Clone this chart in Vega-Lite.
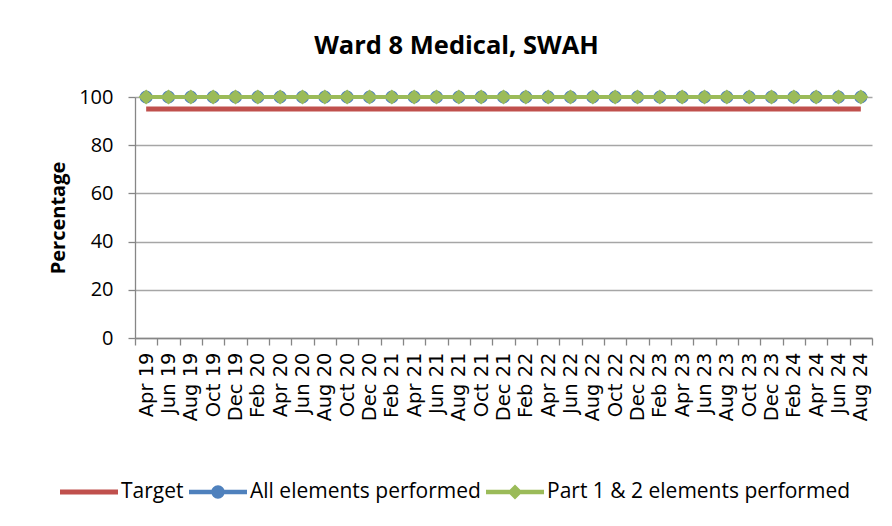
{
  "$schema": "https://vega.github.io/schema/vega-lite/v6.json",
  "autosize": "none",
  "width": 737,
  "height": 241,
  "padding": {"left": 135, "top": 97, "right": 20, "bottom": 188},
  "background": "white",
  "title": {"text": "Ward 8 Medical, SWAH", "font": "Open Sans", "fontSize": 25.5, "fontWeight": "bold", "color": "black", "anchor": "middle", "dx": -47, "offset": 28},
  "config": {
    "view": {"stroke": null},
    "font": "Open Sans",
    "axis": {"labelFont": "Open Sans", "titleFont": "Open Sans", "labelColor": "black", "titleColor": "black", "domainColor": "#868686", "tickColor": "#868686", "gridColor": "#A6A6A6", "domainWidth": 1.3, "tickWidth": 1.3}
  },
  "data": {"values": [
    {"month": "Apr 19", "target": 95, "all": 100, "part": 100},
    {"month": "Jun 19", "target": 95, "all": 100, "part": 100},
    {"month": "Aug 19", "target": 95, "all": 100, "part": 100},
    {"month": "Oct 19", "target": 95, "all": 100, "part": 100},
    {"month": "Dec 19", "target": 95, "all": 100, "part": 100},
    {"month": "Feb 20", "target": 95, "all": 100, "part": 100},
    {"month": "Apr 20", "target": 95, "all": 100, "part": 100},
    {"month": "Jun 20", "target": 95, "all": 100, "part": 100},
    {"month": "Aug 20", "target": 95, "all": 100, "part": 100},
    {"month": "Oct 20", "target": 95, "all": 100, "part": 100},
    {"month": "Dec 20", "target": 95, "all": 100, "part": 100},
    {"month": "Feb 21", "target": 95, "all": 100, "part": 100},
    {"month": "Apr 21", "target": 95, "all": 100, "part": 100},
    {"month": "Jun 21", "target": 95, "all": 100, "part": 100},
    {"month": "Aug 21", "target": 95, "all": 100, "part": 100},
    {"month": "Oct 21", "target": 95, "all": 100, "part": 100},
    {"month": "Dec 21", "target": 95, "all": 100, "part": 100},
    {"month": "Feb 22", "target": 95, "all": 100, "part": 100},
    {"month": "Apr 22", "target": 95, "all": 100, "part": 100},
    {"month": "Jun 22", "target": 95, "all": 100, "part": 100},
    {"month": "Aug 22", "target": 95, "all": 100, "part": 100},
    {"month": "Oct 22", "target": 95, "all": 100, "part": 100},
    {"month": "Dec 22", "target": 95, "all": 100, "part": 100},
    {"month": "Feb 23", "target": 95, "all": 100, "part": 100},
    {"month": "Apr 23", "target": 95, "all": 100, "part": 100},
    {"month": "Jun 23", "target": 95, "all": 100, "part": 100},
    {"month": "Aug 23", "target": 95, "all": 100, "part": 100},
    {"month": "Oct 23", "target": 95, "all": 100, "part": 100},
    {"month": "Dec 23", "target": 95, "all": 100, "part": 100},
    {"month": "Feb 24", "target": 95, "all": 100, "part": 100},
    {"month": "Apr 24", "target": 95, "all": 100, "part": 100},
    {"month": "Jun 24", "target": 95, "all": 100, "part": 100},
    {"month": "Aug 24", "target": 95, "all": 100, "part": 100}
  ]},
  "encoding": {
    "x": {"field": "month", "type": "ordinal", "sort": null,
      "scale": {"type": "band", "paddingInner": 0, "paddingOuter": 0},
      "axis": {"title": null, "labelAngle": -90, "labelFont": "DejaVu Sans", "labelFontSize": 19.5, "tickBand": "extent", "tickSize": 7, "labelPadding": 7, "grid": false}}
  },
  "layer": [
    {"mark": {"type": "line", "color": "#C0504D", "strokeWidth": 5},
     "encoding": {"y": {"field": "target", "type": "quantitative",
        "scale": {"domain": [0, 100], "nice": false},
        "axis": {"title": "Percentage", "titleFontSize": 20, "titleFontWeight": "bold", "titlePadding": 10, "labelFontSize": 20, "values": [0, 20, 40, 60, 80, 100], "tickSize": 7, "labelPadding": 15, "grid": true, "gridWidth": 1.3}}}},
    {"mark": {"type": "line", "color": "#4F81BD", "strokeWidth": 4},
     "encoding": {"y": {"field": "all", "type": "quantitative"}}},
    {"mark": {"type": "point", "shape": "circle", "filled": true, "opacity": 1, "color": "#4F81BD", "size": 170},
     "encoding": {"y": {"field": "all", "type": "quantitative"}}},
    {"mark": {"type": "line", "color": "#9BBB59", "strokeWidth": 4},
     "encoding": {"y": {"field": "part", "type": "quantitative"}}},
    {"mark": {"type": "point", "shape": "diamond", "filled": true, "opacity": 1, "color": "#9BBB59", "size": 230},
     "encoding": {"y": {"field": "part", "type": "quantitative"}}},
    {"transform": [{"filter": "false"}],
     "mark": {"type": "point", "filled": true, "opacity": 1},
     "encoding": {
       "color": {"field": "series", "type": "nominal",
         "scale": {"domain": ["Target", "All elements performed", "Part 1 & 2 elements performed"], "range": ["#C0504D", "#4F81BD", "#9BBB59"]},
         "legend": {"orient": "none", "legendX": -75, "legendY": 366, "direction": "horizontal", "title": null, "symbolSize": 3364, "symbolOpacity": 1, "symbolStrokeWidth": 0, "labelFont": "Open Sans", "labelFontSize": 21, "labelColor": "black", "labelOffset": 3, "labelLimit": 500, "columnPadding": 5, "padding": 0}},
       "shape": {"field": "series", "type": "nominal",
         "scale": {"domain": ["Target", "All elements performed", "Part 1 & 2 elements performed"],
           "range": ["M-1,-0.09H1V0.09H-1Z", "M-1,-0.08H1V0.08H-1Z M0.23,0 A0.23,0.23 0 1,1 -0.23,0 A0.23,0.23 0 1,1 0.23,0Z", "M-1,-0.08H1V0.08H-1Z M0,-0.26 L0.26,0 L0,0.26 L-0.26,0 Z"]},
         "legend": {"orient": "none", "legendX": -75, "legendY": 366, "direction": "horizontal", "title": null, "symbolSize": 3364, "symbolOpacity": 1, "symbolStrokeWidth": 0, "labelFont": "Open Sans", "labelFontSize": 21, "labelColor": "black", "labelOffset": 3, "labelLimit": 500, "columnPadding": 5, "padding": 0}}
     }}
  ]
}
